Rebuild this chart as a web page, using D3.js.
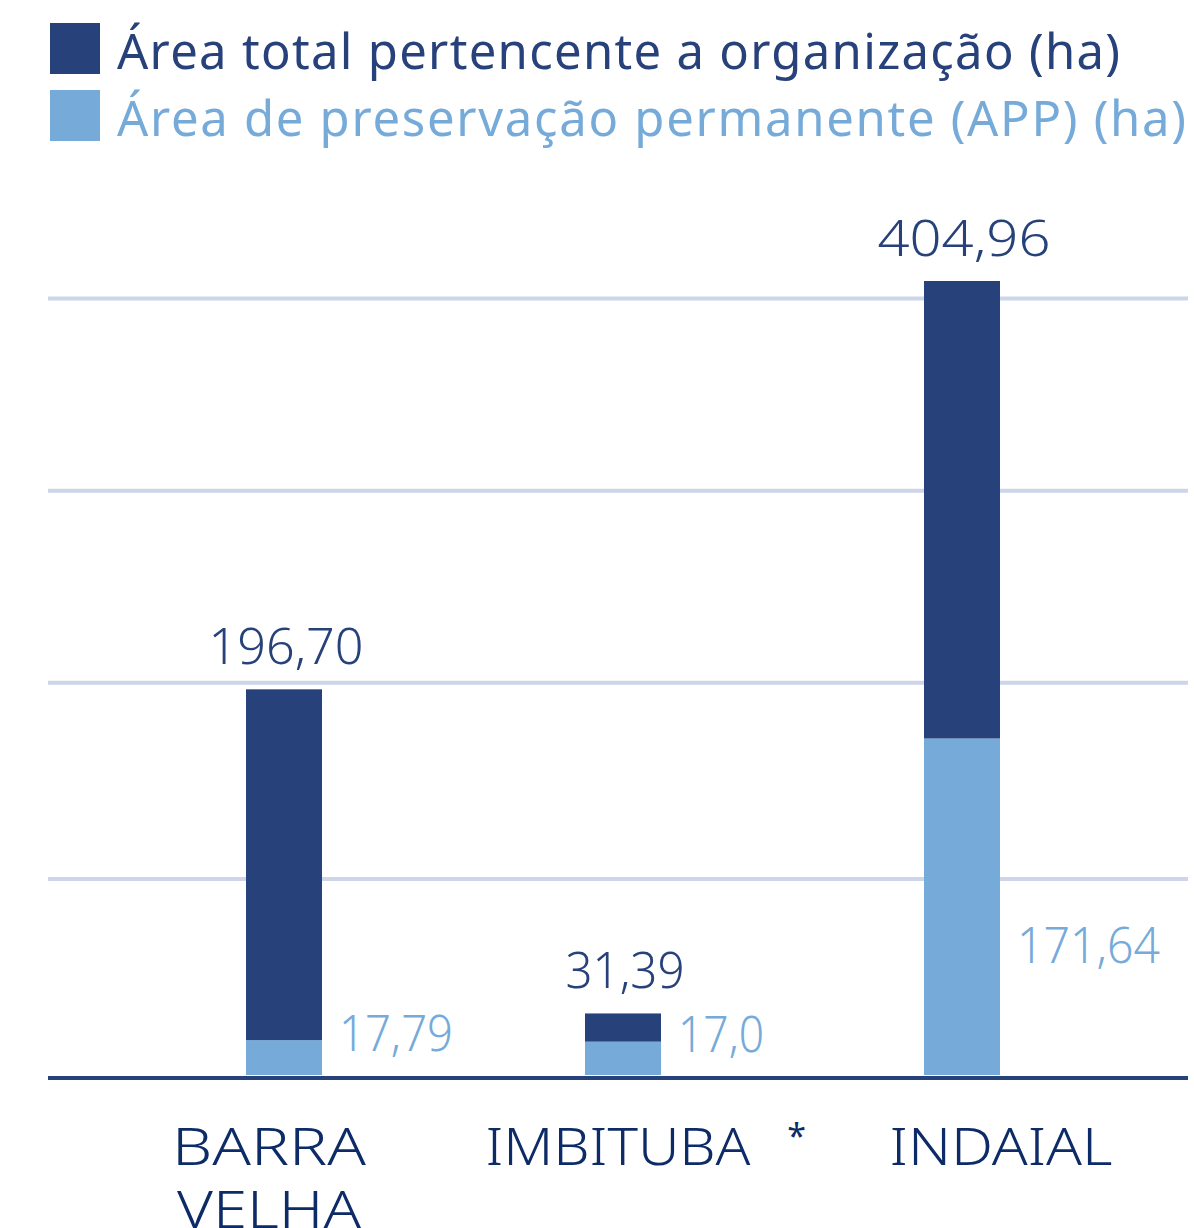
<!DOCTYPE html>
<html>
<head>
<meta charset="utf-8">
<script src="https://cdn.jsdelivr.net/npm/d3@7"></script>
<style>
  html, body { margin: 0; padding: 0; background: #ffffff; }
  svg { display: block; }
  text { font-family: "Noto Sans", "Open Sans", sans-serif; font-weight: 400; }
  text.thin { font-weight: 350; }
</style>
</head>
<body>
<svg id="chart" width="1194" height="1228"></svg>
<script>
// ---- data -------------------------------------------------------------
const categories  = ["BARRA VELHA", "IMBITUBA", "INDAIAL"];
const totalArea   = [196.70, 31.39, 404.96];   // área total (ha)
const appArea     = [17.79, 17.0, 171.64];     // área de preservação permanente (ha)
const totalLabels = ["196,70", "31,39", "404,96"];
const appLabels   = ["17,79", "17,0", "171,64"];
const footnotes   = ["", "*", ""];
const gridValues  = [100, 200, 298, 396];
const seriesNames = [
  "Área total pertencente a organização (ha)",
  "Área de preservação permanente (APP) (ha)"
];

// ---- style / layout -----------------------------------------------------
const DARK = "#27417a", LIGHT = "#75aad9", LABEL = "#0d2b66", GRID = "#cdd5e8";
const plotLeft = 48, plotRight = 1188, baseY = 1075, topY = 281;
const barW = 76;
const catLabelDx = [-15, -5, 39];         // category labels sit a little off the bar centre
const appLabelDy = [11, 10, 225];         // baseline of the APP value below the APP top

const svg = d3.select("#chart");

// fit a text element to a given advance width
function fit(sel, w, mode = "spacing") {
  sel.attr("textLength", w).attr("lengthAdjust", mode);
  return sel;
}

const rows = categories.map((c, i) => ({
  cat: c, total: totalArea[i], app: appArea[i],
  totalLabel: totalLabels[i], appLabel: appLabels[i], note: footnotes[i], i
}));

const x = d3.scalePoint().domain(categories).range([284, 962]);
const y = d3.scaleLinear().domain([0, d3.max(totalArea)]).range([baseY, topY]);

// ---- legend ------------------------------------------------------------
const legend = svg.append("g");
const legendColors = [DARK, LIGHT];
const legendWidths = [1003, 1069];
seriesNames.forEach((name, k) => {
  const g = legend.append("g").attr("transform", `translate(0, ${k * 67})`);
  g.append("rect").attr("x", 50).attr("y", 23).attr("width", 50).attr("height", 51)
    .attr("fill", legendColors[k]);
  fit(g.append("text").attr("x", 117).attr("y", 69)
    .attr("font-size", 49).attr("fill", legendColors[k]).text(name), legendWidths[k]);
});

// ---- grid --------------------------------------------------------------
svg.append("g").selectAll("line").data(gridValues).join("line")
  .attr("x1", plotLeft).attr("x2", plotRight)
  .attr("y1", d => y(d)).attr("y2", d => y(d))
  .attr("stroke", GRID).attr("stroke-width", 4);

// ---- bars --------------------------------------------------------------
const bars = svg.append("g");
bars.selectAll("rect.app").data(rows).join("rect")
  .attr("class", "app")
  .attr("x", d => x(d.cat) - barW / 2).attr("width", barW)
  .attr("y", d => y(d.app)).attr("height", d => y(0) - y(d.app))
  .attr("fill", LIGHT);
bars.selectAll("rect.total").data(rows).join("rect")
  .attr("class", "total")
  .attr("x", d => x(d.cat) - barW / 2).attr("width", barW)
  .attr("y", d => y(d.total)).attr("height", d => y(d.app) - y(d.total))
  .attr("fill", DARK);

// baseline
svg.append("line")
  .attr("x1", plotLeft).attr("x2", plotRight)
  .attr("y1", baseY + 3).attr("y2", baseY + 3)
  .attr("stroke", DARK).attr("stroke-width", 4);

// ---- value labels ----------------------------------------------------------
const totalW = [155, 119, 173];
svg.append("g").selectAll("text").data(rows).join("text")
  .attr("class", "thin")
  .attr("x", d => x(d.cat) + 2).attr("y", d => y(d.total) - 25)
  .attr("text-anchor", "middle").attr("font-size", 49).attr("fill", DARK)
  .text(d => d.totalLabel)
  .each(function (d) { fit(d3.select(this), totalW[d.i], "spacingAndGlyphs"); });

const appW = [114, 86, 143];
svg.append("g").selectAll("text").data(rows).join("text")
  .attr("class", "thin")
  .attr("x", d => x(d.cat) + barW / 2 + 17).attr("y", d => y(d.app) + appLabelDy[d.i])
  .attr("font-size", 49).attr("fill", LIGHT)
  .text(d => d.appLabel)
  .each(function (d) { fit(d3.select(this), appW[d.i], "spacingAndGlyphs"); });

// ---- category labels -------------------------------------------------------
const catW = { "BARRA": 194, "VELHA": 184, "IMBITUBA": 265, "INDAIAL": 223 };
const cats = svg.append("g");
rows.forEach(d => {
  const cx = x(d.cat) + catLabelDx[d.i];
  const words = d.cat.split(" ");
  let right = cx;
  words.forEach((w, k) => {
    const t = cats.append("text").attr("class", "thin").attr("x", cx).attr("y", 1165 + k * 63)
      .attr("text-anchor", "middle").attr("font-size", 52).attr("fill", LABEL).text(w);
    fit(t, catW[w], "spacingAndGlyphs");
    right = Math.max(right, cx + catW[w] / 2);
  });
  if (d.note) {
    cats.append("text").attr("x", right + 46).attr("y", 1148)
      .attr("text-anchor", "middle").attr("font-size", 34).attr("fill", LABEL).text(d.note);
  }
});
</script>
</body>
</html>
